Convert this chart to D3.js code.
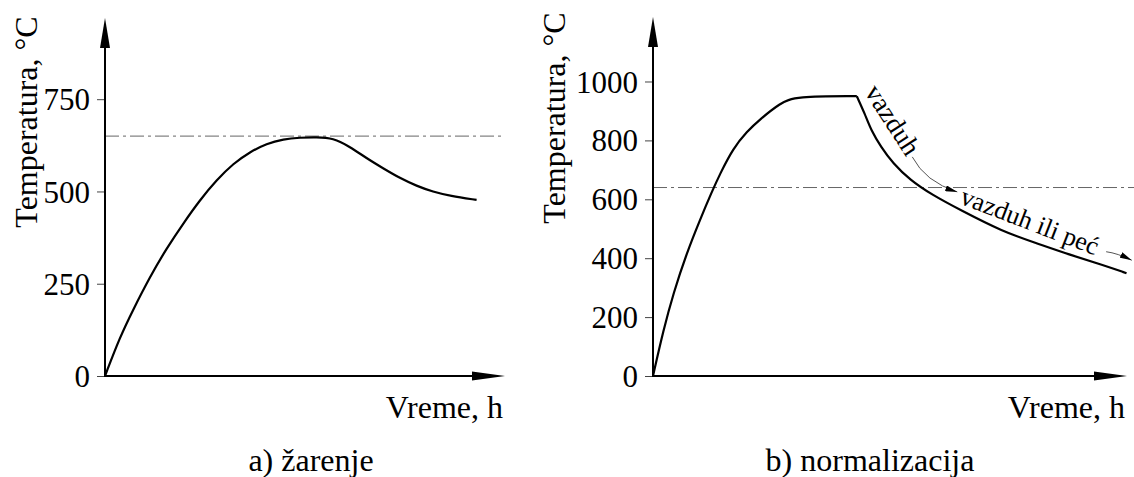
<!DOCTYPE html>
<html><head><meta charset="utf-8">
<script src="https://cdn.jsdelivr.net/npm/d3@7/dist/d3.min.js"></script>
<style>body{margin:0;background:#fff}svg{display:block}text{font-family:"Liberation Serif","Times New Roman",serif;fill:#000}</style>
</head><body>
<svg id="c" width="1134" height="477"></svg>
<script>
// ---- data ----
const annealTime = [0, 0.375, 0.7, 1.125, 1.54, 1.96, 2.375, 2.79, 3.21, 3.625, 4.04, 4.46, 4.875, 5.29, 5.7, 6.125, 6.54, 6.95, 7.375, 7.79, 8.2, 8.625, 9.29];
const annealTemp = [0, 106, 179, 269, 346, 414, 477, 531, 576, 607, 630, 642, 646, 647, 645, 621, 590, 563, 536, 515, 499, 488, 477];
const normHeatTime = [0, 0.22, 0.43, 0.71, 0.99, 1.24, 1.41, 1.69, 1.98, 2.26, 2.68, 3.0, 4.30];
const normHeatTemp = [0, 156, 281, 417, 530, 625, 685, 773, 830, 872, 926, 950, 950];
const normCoolTime = [4.30, 4.47, 4.60, 4.81, 5.06, 5.42, 5.89, 6.48, 7.38, 8.09, 8.80, 9.50, 9.99];
const normCoolTemp = [950, 890, 835, 778, 723, 666, 615, 564, 490, 451, 411, 377, 349];
const annealTicks = [0, 250, 500, 750];
const normTicks = [0, 200, 400, 600, 800, 1000];
const annealCritical = 650;
const normCritical = 640;
const yLabel = "Temperatura, \u00B0C";
const xLabel = "Vreme, h";
const captions = ["a) \u017Earenje", "b) normalizacija"];
const coolLabels = ["vazduh", "vazduh ili pe\u0107"];

const svg = d3.select("#c");
svg.append("rect").attr("width",1134).attr("height",477).attr("fill","#fff");
const defs = svg.append("defs");
defs.append("marker").attr("id","ah").attr("viewBox","0 0 12 6").attr("refX",12).attr("refY",3)
  .attr("markerWidth",12).attr("markerHeight",6).attr("markerUnits","userSpaceOnUse").attr("orient","auto")
  .append("path").attr("d","M0,0L12,3L0,6Z").attr("fill","#000");

function panel(cfg){
  const x = d3.scaleLinear().domain([0,10]).range(cfg.xr);
  const y = d3.scaleLinear().domain([0,cfg.ymax]).range(cfg.yr);
  const g = svg.append("g");
  const ax = g.append("g").attr("transform",`translate(${x(0)},0)`)
    .call(d3.axisLeft(y).tickValues(cfg.ticks).tickSize(8).tickPadding(7).tickFormat(d3.format("d")));
  ax.select(".domain").remove();
  ax.selectAll(".tick line").attr("stroke","#444").attr("stroke-width",1);
  ax.selectAll(".tick text").attr("font-size",31).attr("font-family","Liberation Serif").attr("fill","#000").attr("dy","0.34em");
  g.append("line").attr("x1",x(0)).attr("x2",cfg.dashEnd).attr("y1",y(cfg.crit)).attr("y2",y(cfg.crit))
    .attr("stroke","#666").attr("stroke-width",1).attr("stroke-dasharray","14,4,3,4");
  const x0 = x(0), y0 = y(0), yTop = y(cfg.ymax), xEnd = x(10);
  g.append("line").attr("x1",x0).attr("x2",x0).attr("y1",y0+1).attr("y2",yTop+28).attr("stroke","#000").attr("stroke-width",2);
  g.append("path").attr("d",`M${x0},${yTop}L${x0-5},${yTop+30}L${x0+5},${yTop+30}Z`).attr("fill","#000");
  g.append("line").attr("x1",x0-1).attr("x2",xEnd-30).attr("y1",y0).attr("y2",y0).attr("stroke","#000").attr("stroke-width",2);
  g.append("path").attr("d",`M${xEnd},${y0}L${xEnd-33},${y0-4.5}L${xEnd-33},${y0+4.5}Z`).attr("fill","#000");
  const line = d3.line().x(d=>x(d[0])).y(d=>y(d[1])).curve(d3.curveBasis);
  cfg.series.forEach(s=>{
    g.append("path").attr("d",line(d3.zip(s[0],s[1]))).attr("fill","none").attr("stroke","#000").attr("stroke-width",2.2).attr("stroke-linejoin","round");
  });
  g.append("text").attr("transform",`translate(${cfg.ylx},${cfg.yly}) rotate(-90)`).attr("text-anchor","middle")
    .attr("font-size",32).text(yLabel);
  g.append("text").attr("x",xEnd-2).attr("y",418).attr("text-anchor","end").attr("font-size",32).text(xLabel);
  g.append("text").attr("x",cfg.capX).attr("y",471).attr("text-anchor","middle").attr("font-size",32).text(cfg.caption);
  return {x,y,g};
}

panel({xr:[105,505], yr:[376,18], ymax:970, ticks:annealTicks, crit:annealCritical, dashEnd:505,
  series:[[annealTime,annealTemp]], ylx:37, yly:122, capX:311, caption:captions[0]});
const R = panel({xr:[653,1127], yr:[376,17], ymax:1219, ticks:normTicks, crit:normCritical, dashEnd:1134,
  series:[[normHeatTime,normHeatTemp],[normCoolTime,normCoolTemp]], ylx:565, yly:118, capX:870, caption:captions[1]});

const ax_ = R.x, ay_ = R.y;
R.g.append("text").attr("transform",`translate(${ax_(4.45)},${ay_(964)}) rotate(57)`).attr("font-size",27).text(coolLabels[0]);
R.g.append("text").attr("transform",`translate(${ax_(6.45)},${ay_(587)}) rotate(21)`).attr("font-size",26).text(coolLabels[1]);
R.g.append("path").attr("d",`M${ax_(5.47)},${ay_(744)} Q${ax_(5.74)},${ay_(660)} ${ax_(6.42)},${ay_(625)}`)
  .attr("fill","none").attr("stroke","#555").attr("stroke-width",1).attr("marker-end","url(#ah)");
R.g.append("path").attr("d",`M${ax_(9.56)},${ay_(422)} Q${ax_(9.8)},${ay_(417)} ${ax_(10.1)},${ay_(393)}`)
  .attr("fill","none").attr("stroke","#555").attr("stroke-width",1).attr("marker-end","url(#ah)");
</script>
</body></html>
